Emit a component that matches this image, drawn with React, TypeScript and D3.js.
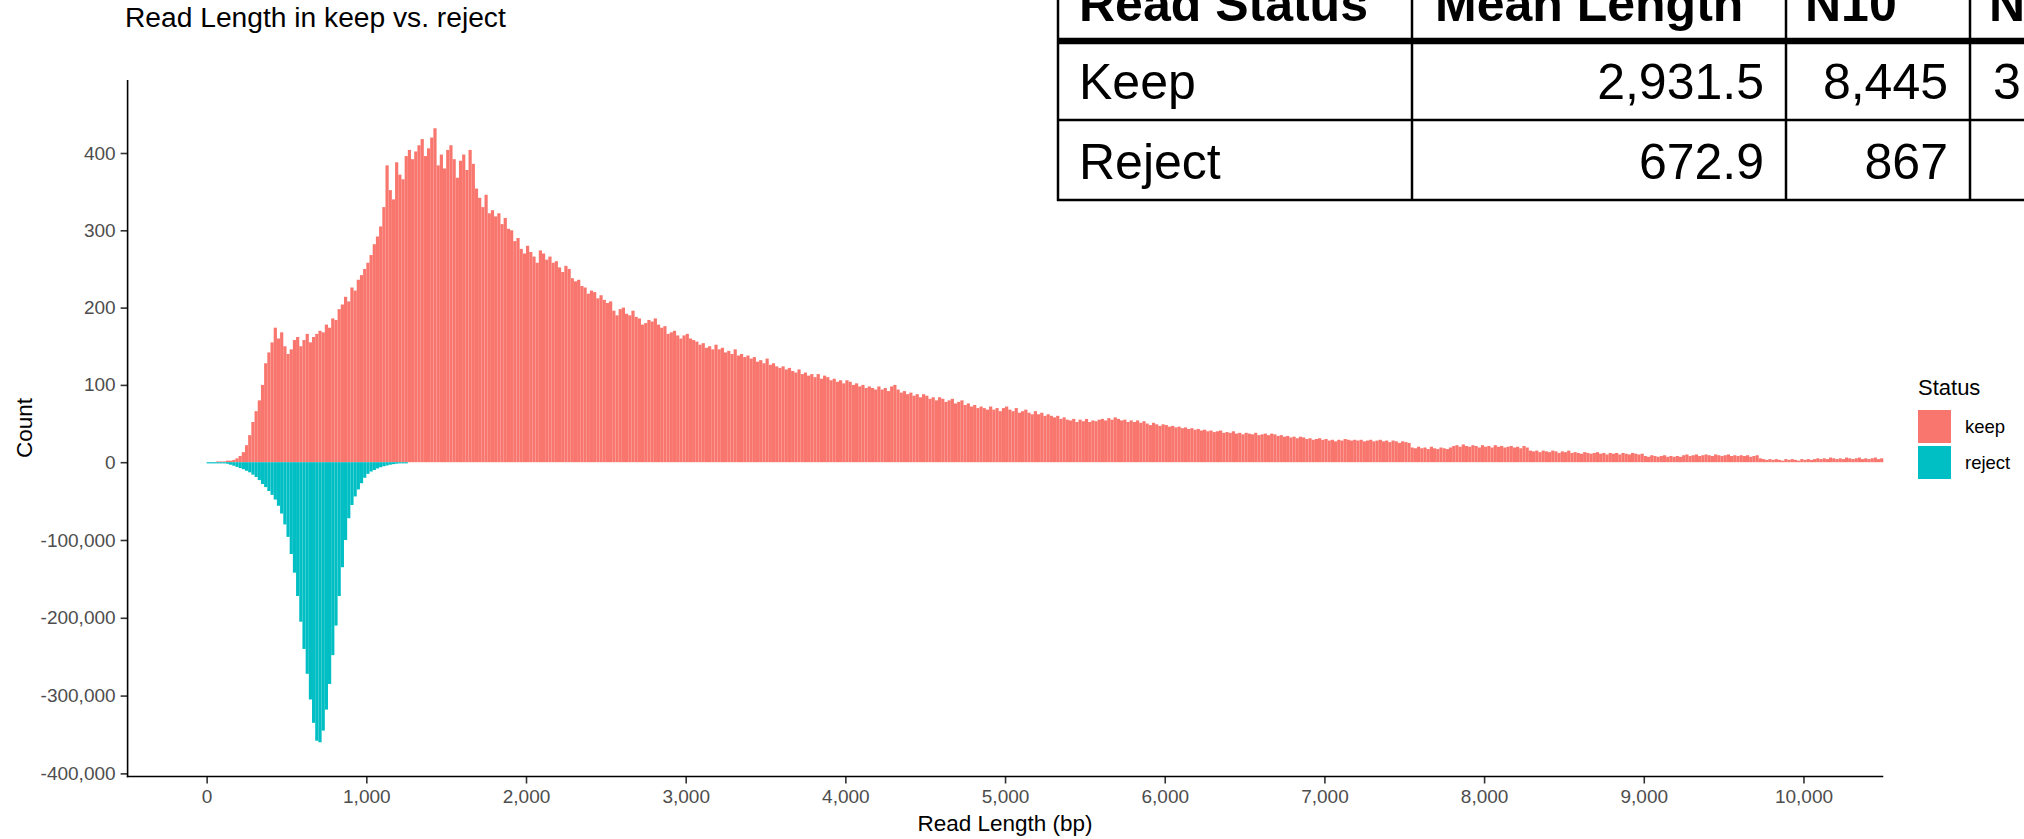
import { useEffect, useRef } from "react";
import * as d3 from "d3";

const BIN_WIDTH = 20;
const FONT = "'Liberation Sans', Arial, sans-serif";
const KEEP_COLOR = "#F8766D";
const REJECT_COLOR = "#00BFC4";

// keep read counts per 20 bp bin, first bin starts at 0 bp
const keepCounts = [
  0, 0, 0, 1, 1, 1, 2, 2, 3, 5,
  8, 13, 22, 35, 52, 66, 80, 100, 128, 142,
  155, 174, 160, 168, 150, 140, 146, 158, 162, 150,
  158, 166, 155, 162, 166, 170, 168, 178, 174, 186,
  184, 198, 204, 214, 208, 226, 222, 236, 242, 250,
  258, 268, 282, 292, 305, 330, 384, 352, 340, 388,
  372, 366, 396, 404, 392, 402, 410, 418, 396, 406,
  420, 432, 384, 398, 380, 404, 410, 392, 368, 390,
  398, 378, 404, 386, 354, 342, 330, 346, 322, 326,
  318, 322, 308, 316, 302, 300, 286, 290, 276, 270,
  280, 272, 266, 258, 274, 270, 262, 266, 258, 260,
  252, 246, 254, 250, 238, 234, 236, 228, 226, 218,
  222, 220, 212, 216, 210, 206, 208, 196, 190, 198,
  200, 192, 190, 196, 188, 186, 178, 180, 184, 182,
  186, 178, 174, 176, 166, 168, 170, 164, 160, 164,
  166, 160, 158, 156, 152, 154, 148, 150, 146, 152,
  146, 148, 142, 144, 140, 146, 138, 140, 136, 138,
  134, 136, 130, 132, 128, 134, 126, 128, 124, 122,
  124, 120, 122, 118, 116, 120, 114, 116, 112, 114,
  110, 114, 108, 112, 110, 106, 108, 104, 106, 102,
  106, 104, 100, 102, 98, 100, 96, 98, 96, 94,
  98, 94, 96, 92, 98, 100, 94, 90, 92, 88,
  90, 86, 88, 84, 88, 86, 82, 84, 80, 84,
  82, 78, 80, 82, 76, 78, 80, 74, 76, 72,
  74, 70, 72, 70, 68, 72, 68, 70, 66, 70,
  72, 68, 66, 70, 64, 66, 68, 64, 62, 66,
  62, 64, 60, 62, 60, 58, 60, 56, 58, 55,
  54, 56, 52, 55, 53, 56, 52, 54, 53, 55,
  56, 54, 57, 55, 58, 56, 54, 55, 52, 54,
  52, 54, 51, 53, 50, 48, 51, 49, 47, 49,
  48, 46, 47, 45, 46, 44, 45, 43, 44, 42,
  43, 41, 42, 40, 41, 39, 40, 41, 38, 39,
  38, 40, 37, 38, 36, 38, 37, 36, 38, 35,
  36, 37, 35, 37, 36, 34, 35, 33, 34, 32,
  33, 31, 33, 32, 30, 31, 29, 30, 31, 29,
  30, 28, 29, 27, 29, 28, 30, 29, 28, 29,
  28, 29, 27, 28, 29, 27, 28, 29, 27, 28,
  26, 28, 27, 25, 27, 26, 25, 19, 18, 20,
  18, 19, 17, 20, 18, 17, 19, 18, 17, 19,
  21, 22, 20, 23, 21, 20, 22, 21, 19, 22,
  20, 21, 19, 22, 20, 21, 19, 20, 21, 19,
  20, 18, 21, 19, 15, 14, 15, 13, 15, 14,
  13, 15, 14, 12, 14, 13, 15, 12, 13, 12,
  11, 13, 12, 11, 12, 13, 11, 12, 10, 12,
  11, 12, 10, 12, 11, 10, 12, 11, 10, 11,
  8, 7, 9, 8, 7, 8, 9, 7, 8, 7,
  8, 7, 9, 10, 8, 9, 10, 8, 9, 10,
  9, 8, 10, 9, 8, 9, 10, 8, 9, 8,
  9, 8, 9, 7, 8, 9, 5, 4, 3, 4,
  3, 4, 3, 2, 4, 3, 4, 3, 2, 4,
  3, 4, 3, 4, 5, 4, 5, 4, 6, 5,
  4, 5, 4, 6, 5, 4, 5, 6, 4, 5,
  4, 5, 6, 4, 5,
];

// reject read counts (thousands) per 20 bp bin, first bin starts at 0 bp
const rejectCountsK = [
  0.1, 0.2, 0.3, 0.5, 0.8, 1.2, 2, 3.2, 4.5, 6,
  7.5, 9, 11, 13, 16, 19, 23, 28, 32, 37,
  42, 48, 56, 66, 80, 96, 118, 142, 172, 205,
  240, 272, 305, 335, 358, 360, 345, 318, 285, 248,
  210, 172, 135, 100, 72, 55, 44, 35, 27, 20,
  15, 12, 10, 8, 6.5, 5.2, 4.2, 3.2, 2.5, 1.9,
  1.4, 1, 0.7,
];

const xTicks = [0, 1000, 2000, 3000, 4000, 5000, 6000, 7000, 8000, 9000, 10000];
const yTicks = [-400000, -300000, -200000, -100000, 0, 100, 200, 300, 400];

const statusLabels = ["keep", "reject"];

const tableHeader = ["Read Status", "Mean Length", "N10", "N50"];
const tableRows = [
  ["Keep", "2,931.5", "8,445", "3,912"],
  ["Reject", "672.9", "867", "702"],
];

const fmt = d3.formatLocale({
  decimal: ".",
  thousands: ",",
  grouping: [3],
  currency: ["", ""],
  minus: "-",
}).format(",");

export default function App() {
  const svgRef = useRef<SVGSVGElement>(null);

  useEffect(() => {
    if (!svgRef.current) return;
    const svg = d3.select(svgRef.current);
    svg.selectAll("*").remove();

    const x = d3.scaleLinear().domain([-500, 10500]).range([126.8, 1883.3]);
    // keep counts above zero, reject counts below (different units per side)
    const y = d3.scaleLinear().domain([-404000, 0, 400]).range([776.5, 462.2, 153]);

    svg.append("rect").attr("width", 2024).attr("height", 839).attr("fill", "#fff");

    // Title
    svg.append("text")
      .attr("x", 125).attr("y", 27)
      .style("font-family", FONT).style("font-size", "28.2px").style("fill", "#000")
      .text("Read Length in keep vs. reject");

    // Keep bars
    svg.append("g")
      .selectAll("rect")
      .data(keepCounts.map((c, i) => ({ start: i * BIN_WIDTH, c })).filter((d) => d.c > 0))
      .join("rect")
      .attr("x", (d) => x(d.start))
      .attr("width", (d) => x(d.start + BIN_WIDTH) - x(d.start))
      .attr("y", (d) => y(d.c))
      .attr("height", (d) => y(0) - y(d.c))
      .attr("fill", KEEP_COLOR);

    // Reject bars
    svg.append("g")
      .selectAll("rect")
      .data(rejectCountsK.map((c, i) => ({ start: i * BIN_WIDTH, c: c * 1000 })))
      .join("rect")
      .attr("x", (d) => x(d.start))
      .attr("width", (d) => x(d.start + BIN_WIDTH) - x(d.start))
      .attr("y", y(0))
      .attr("height", (d) => Math.max(y(-d.c) - y(0), 1.2))
      .attr("fill", REJECT_COLOR);

    // Y axis
    const yAxis = svg.append("g")
      .attr("transform", "translate(127.6,0)")
      .call(d3.axisLeft(y).tickValues(yTicks).tickSizeInner(7).tickSizeOuter(0).tickPadding(5).tickFormat((d) => fmt(d as number)));
    yAxis.select(".domain").remove();
    yAxis.selectAll(".tick line").attr("stroke", "#333").attr("stroke-width", 1.6);
    yAxis.selectAll("text")
      .style("font-family", FONT).style("font-size", "19px").style("fill", "#4D4D4D");

    // X axis
    const xAxis = svg.append("g")
      .attr("transform", "translate(0,776.5)")
      .call(d3.axisBottom(x).tickValues(xTicks).tickSizeInner(7).tickSizeOuter(0).tickPadding(6).tickFormat((d) => fmt(d as number)));
    xAxis.select(".domain").remove();
    xAxis.selectAll(".tick line").attr("stroke", "#333").attr("stroke-width", 1.6);
    xAxis.selectAll("text")
      .style("font-family", FONT).style("font-size", "19px").style("fill", "#4D4D4D");

    // Axis lines
    svg.append("line")
      .attr("x1", 127.6).attr("x2", 127.6).attr("y1", 80).attr("y2", 777.3)
      .attr("stroke", "#000").attr("stroke-width", 1.6);
    svg.append("line")
      .attr("x1", 126.8).attr("x2", 1883.3).attr("y1", 776.5).attr("y2", 776.5)
      .attr("stroke", "#000").attr("stroke-width", 1.6);

    // Axis titles
    svg.append("text")
      .attr("x", 1005).attr("y", 831)
      .attr("text-anchor", "middle")
      .style("font-family", FONT).style("font-size", "22.5px").style("fill", "#000")
      .text("Read Length (bp)");
    svg.append("text")
      .attr("transform", "translate(32,428) rotate(-90)")
      .attr("text-anchor", "middle")
      .style("font-family", FONT).style("font-size", "22.5px").style("fill", "#000")
      .text("Count");

    // Legend
    const legend = svg.append("g").attr("transform", "translate(1918,0)");
    legend.append("text")
      .attr("x", 0).attr("y", 395)
      .style("font-family", FONT).style("font-size", "22px").style("fill", "#000")
      .text("Status");
    statusLabels.forEach((label, i) => {
      const top = 410 + i * 36;
      legend.append("rect")
        .attr("x", 0).attr("y", top).attr("width", 33).attr("height", 33)
        .attr("fill", i === 0 ? KEEP_COLOR : REJECT_COLOR);
      legend.append("text")
        .attr("x", 47).attr("y", top + 23)
        .style("font-family", FONT).style("font-size", "18.5px").style("fill", "#000")
        .text(label);
    });

    // Summary table (clipped by the page edge)
    const colEdges = [1058, 1412, 1786, 1970, 2140];
    const rowEdges = [-40, 41, 120, 200];
    const table = svg.append("g");
    table.append("rect")
      .attr("x", colEdges[0]).attr("y", rowEdges[0])
      .attr("width", colEdges[4] - colEdges[0]).attr("height", rowEdges[3] - rowEdges[0])
      .attr("fill", "#fff");
    colEdges.forEach((cx) => {
      table.append("line")
        .attr("x1", cx).attr("x2", cx).attr("y1", rowEdges[0]).attr("y2", rowEdges[3] + 1)
        .attr("stroke", "#000").attr("stroke-width", 2.5);
    });
    table.append("line")
      .attr("x1", colEdges[0]).attr("x2", colEdges[4]).attr("y1", 41).attr("y2", 41)
      .attr("stroke", "#000").attr("stroke-width", 6.5);
    [120, 200].forEach((ry) => {
      table.append("line")
        .attr("x1", colEdges[0] - 1).attr("x2", colEdges[4]).attr("y1", ry).attr("y2", ry)
        .attr("stroke", "#000").attr("stroke-width", 2.5);
    });
    tableHeader.forEach((h, i) => {
      table.append("text")
        .attr("x", colEdges[i] + (i === 0 ? 21 : i === 1 ? 23 : 19)).attr("y", 21)
        .style("font-family", FONT).style("font-size", "50px").style("font-weight", "bold").style("fill", "#000")
        .text(h);
    });
    tableRows.forEach((row, r) => {
      const base = r === 0 ? 99 : 179;
      row.forEach((cell, i) => {
        table.append("text")
          .attr("x", i === 0 ? colEdges[0] + 21 : colEdges[i + 1] - 22)
          .attr("y", base)
          .attr("text-anchor", i === 0 ? "start" : "end")
          .style("font-family", FONT).style("font-size", "50px").style("fill", "#000")
          .text(cell);
      });
    });
  }, []);

  return (
    <svg
      ref={svgRef}
      width={2024}
      height={839}
      style={{ position: "absolute", left: 0, top: 0, display: "block" }}
    />
  );
}
